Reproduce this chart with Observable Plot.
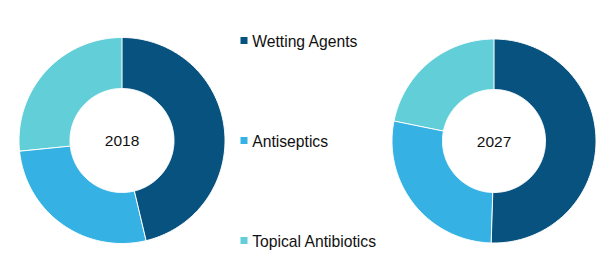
<!DOCTYPE html>
<html><head><meta charset="utf-8">
<script src="https://cdn.jsdelivr.net/npm/d3@7"></script>
<script src="https://cdn.jsdelivr.net/npm/@observablehq/plot@0.6"></script>
<style>
body{margin:0;background:#fff;}
#wrap{position:relative;width:611px;height:267px;overflow:hidden;background:#fff;}
#wrap svg{position:absolute;top:0;}
</style></head>
<body><div id="wrap"></div>
<script>
const categories = ["Wetting Agents", "Antiseptics", "Topical Antibiotics"];
const colors = ["#07527f", "#35b2e3", "#62cfd8"];
const years = ["2018", "2027"];
const values2018 = [46.3, 27.1, 26.6];
const values2027 = [50.5, 27.7, 21.8];

const wrap = document.getElementById("wrap");
const innerRatio = 0.505;

function arcPoints(values) {
  const pie = d3.pie().sort(null).value(d => d)(values);
  const pts = [];
  pie.forEach((p, i) => {
    const n = Math.max(2, Math.ceil((p.endAngle - p.startAngle) / (Math.PI / 180)));
    for (let k = 0; k <= n; k++) {
      const a = p.startAngle + (p.endAngle - p.startAngle) * k / n;
      pts.push({cat: categories[i], x: Math.sin(a), y: Math.cos(a)});
    }
    for (let k = n; k >= 0; k--) {
      const a = p.startAngle + (p.endAngle - p.startAngle) * k / n;
      pts.push({cat: categories[i], x: innerRatio * Math.sin(a), y: innerRatio * Math.cos(a)});
    }
  });
  return pts;
}

function donut(values, year, w, ml, mr, mt, mb) {
  return Plot.plot({
    width: w, height: 267,
    marginLeft: ml, marginRight: mr, marginTop: mt, marginBottom: mb,
    x: {domain: [-1, 1], axis: null},
    y: {domain: [-1, 1], axis: null},
    color: {domain: categories, range: colors},
    style: {fontFamily: "'Liberation Sans', Arial, sans-serif", background: "transparent"},
    marks: [
      Plot.line(arcPoints(values), {x: "x", y: "y", z: "cat", fill: "cat", stroke: "white", strokeWidth: 1, curve: "linear-closed"}),
      Plot.text([year], {x: () => 0, y: () => 0, text: d => d, fontSize: 15.5, fill: "#111", dy: 1})
    ]
  });
}

const left = donut(values2018, years[0], 243, 18.5, 18.5, 37, 24);
left.style.left = "0px";
wrap.appendChild(left);

const right = donut(values2027, years[1], 239, 19.5, 15.5, 38.5, 24.5);
right.style.left = "372px";
wrap.appendChild(right);

const legend = Plot.plot({
  width: 160, height: 267,
  marginLeft: 0, marginRight: 0, marginTop: 0, marginBottom: 0,
  x: {domain: [0, 1], range: [13.5, 150], axis: null},
  y: {type: "point", domain: categories, range: [40.3, 240.3], padding: 0, axis: null},
  color: {domain: categories, range: colors},
  style: {fontFamily: "'Liberation Sans', Arial, sans-serif", background: "transparent"},
  marks: [
    Plot.dot(categories, {x: () => 0, y: d => d, symbol: "square", r: 3.95, fill: d => d, stroke: null}),
    Plot.text(categories, {x: () => 0, y: d => d, text: d => d, textAnchor: "start", dx: 8.2, dy: 1, fontSize: 15.7, fill: "#111"})
  ]
});
legend.style.left = "230px";
wrap.appendChild(legend);
</script>
</body></html>
